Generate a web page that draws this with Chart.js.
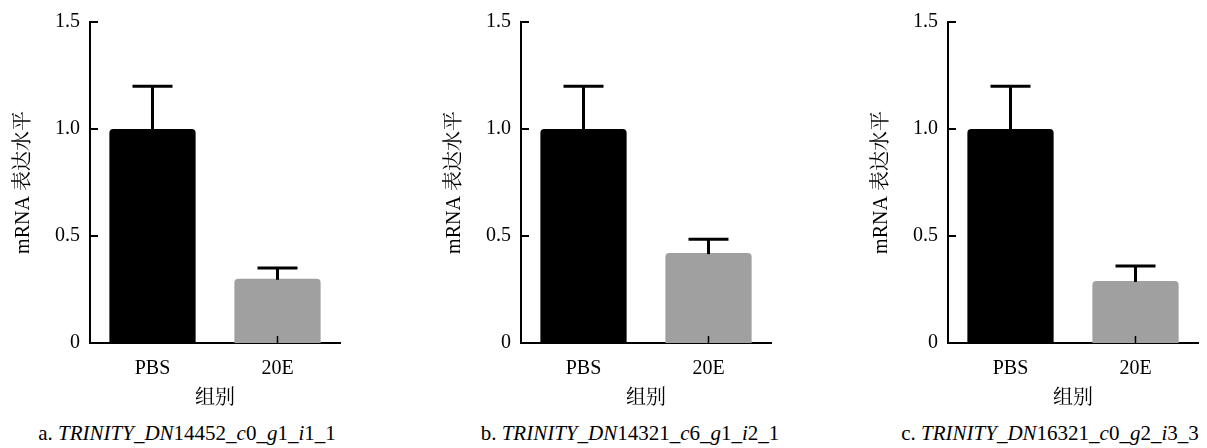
<!DOCTYPE html>
<html>
<head>
<meta charset="utf-8">
<script src="https://cdn.jsdelivr.net/npm/chart.js@4/dist/chart.umd.min.js"></script>
<style>
  html, body { margin: 0; padding: 0; background: #fff; }
  #wrap { position: relative; width: 1207px; height: 448px; overflow: hidden; }
  canvas { position: absolute; top: 0; }
  .cap { position: absolute; width: 420px; text-align: center; top: 420px; height: 26px; line-height: 26px;
         font-family: "Liberation Serif", "Times New Roman", serif; font-size: 21px; color: #000; white-space: nowrap; }
</style>
</head>
<body>
<div id="wrap">
  <canvas id="chartA" width="345" height="420" style="left:0px"></canvas>
  <canvas id="chartB" width="345" height="420" style="left:431px"></canvas>
  <canvas id="chartC" width="345" height="420" style="left:858px"></canvas>
  <div class="cap" style="left:-23px">a. <i>TRINITY_DN</i>14452_<i>c</i>0_<i>g</i>1_<i>i</i>1_1</div>
  <div class="cap" style="left:420px">b. <i>TRINITY_DN</i>14321_<i>c</i>6_<i>g</i>1_<i>i</i>2_1</div>
  <div class="cap" style="left:840px">c. <i>TRINITY_DN</i>16321_<i>c</i>0_<i>g</i>2_<i>i</i>3_3</div>
</div>
<script>
// groups and values
const groups = ['PBS', '20E'];
const meansA = [1.0, 0.30];
const errA = [0.20, 0.05];
const meansB = [1.0, 0.42];
const errB = [0.20, 0.065];
const meansC = [1.0, 0.29];
const errC = [0.20, 0.07];
const yTicks = [0, 0.5, 1.0, 1.5];
const yTitle = 'mRNA 表达水平';
const xTitle = '组别';

const barColors = ['#000000', '#a0a0a0'];

Chart.defaults.font.family = '"Liberation Serif", "Noto Serif CJK SC", "Noto Sans CJK SC", serif';
Chart.defaults.font.size = 20;
Chart.defaults.color = '#000';

// error whiskers (upper only) + inward tick marks
const extras = {
  id: 'extras',
  afterDatasetsDraw(chart, args, opts){
    const ctx = chart.ctx;
    const ys = chart.scales.y, xs = chart.scales.x;
    const meta = chart.getDatasetMeta(0);
    const vals = chart.data.datasets[0].data;
    ctx.save();
    ctx.strokeStyle = '#000';
    ctx.lineCap = 'butt';
    meta.data.forEach((bar, i) => {
      const top = ys.getPixelForValue(vals[i] + opts.errors[i]);
      ctx.lineWidth = 3;
      ctx.beginPath();
      ctx.moveTo(bar.x, bar.y + 1);
      ctx.lineTo(bar.x, top);
      ctx.stroke();
      ctx.beginPath();
      ctx.moveTo(bar.x - 20, top);
      ctx.lineTo(bar.x + 20, top);
      ctx.stroke();
      // x tick pointing up
      ctx.lineWidth = 1.5;
      ctx.beginPath();
      ctx.moveTo(bar.x, xs.top);
      ctx.lineTo(bar.x, xs.top - 7);
      ctx.stroke();
    });
    ctx.lineWidth = 2;
    yTicks.forEach(v => {
      const y = ys.getPixelForValue(v);
      ctx.beginPath();
      ctx.moveTo(ys.right, y);
      ctx.lineTo(ys.right + 8, y);
      ctx.stroke();
    });
    ctx.restore();
  }
};

function buildChart(id, means, errors, topPad){
  new Chart(document.getElementById(id), {
    type: 'bar',
    data: {
      labels: groups,
      datasets: [{
        data: means,
        backgroundColor: barColors,
        borderRadius: { topLeft: 4, topRight: 4 },
        borderSkipped: 'bottom',
        barPercentage: 0.69,
        categoryPercentage: 1.0
      }]
    },
    options: {
      responsive: false,
      animation: false,
      layout: { padding: { top: topPad, right: 5, left: 0, bottom: 0 } },
      plugins: { legend: { display: false }, tooltip: { enabled: false }, extras: { errors } },
      scales: {
        x: {
          grid: { display: false, drawTicks: false },
          border: { display: true, color: '#000', width: 2 },
          ticks: { padding: 14, font: { size: 20 } },
          title: { display: true, text: xTitle, padding: { top: 0, bottom: 9 }, font: { size: 20 } },
          afterFit(s){ s.height = 77; }
        },
        y: {
          min: 0, max: 1.5,
          afterBuildTicks(s){ s.ticks = yTicks.map(v => ({ value: v })); },
          grid: { display: false, drawTicks: false },
          border: { display: true, color: '#000', width: 2 },
          ticks: { padding: 10, font: { size: 20 }, callback: v => v === 0 ? '0' : v.toFixed(1) },
          title: { display: true, text: yTitle, padding: { top: 12, bottom: 0 }, font: { size: 20 } },
          afterFit(s){ s.width = 90; }
        }
      }
    },
    plugins: [extras]
  });
}

buildChart('chartA', meansA, errA, 18);
buildChart('chartB', meansB, errB, 19);
buildChart('chartC', meansC, errC, 15);
</script>
</body>
</html>
